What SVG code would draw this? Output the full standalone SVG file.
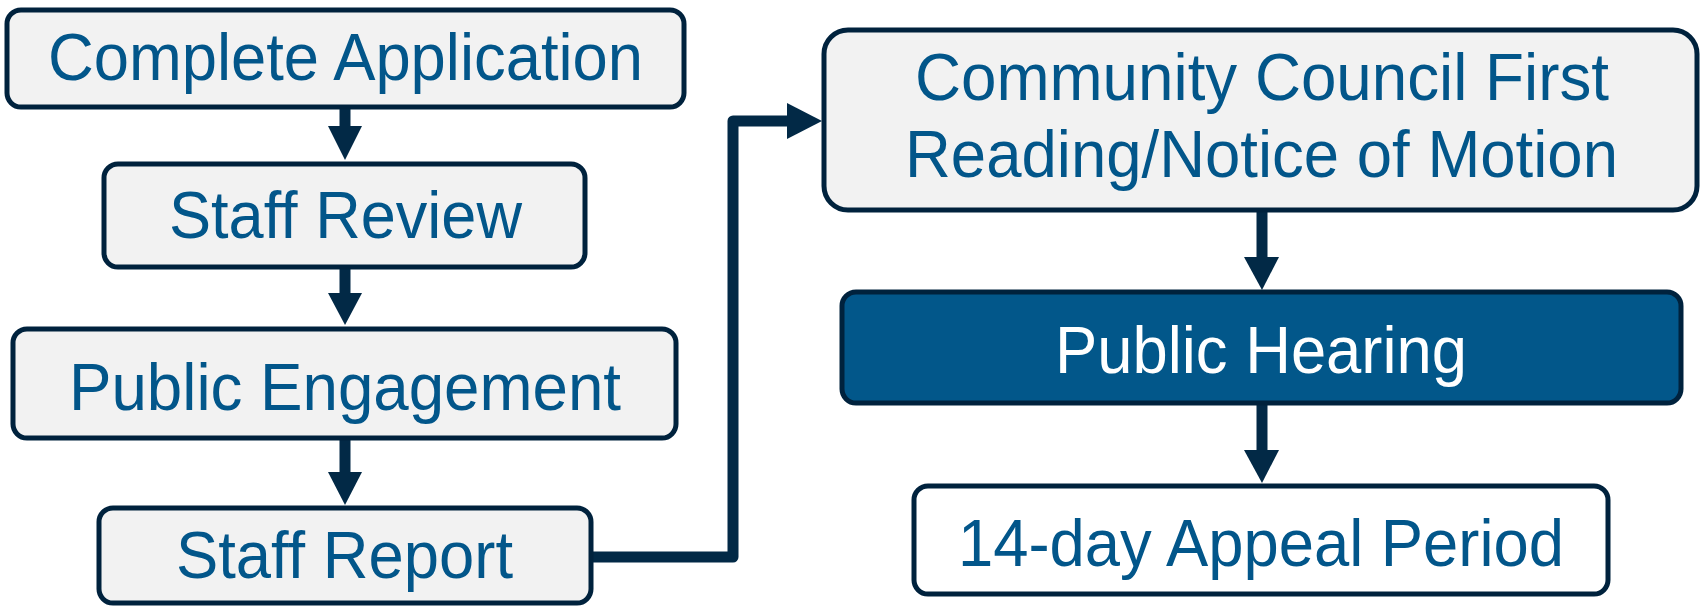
<svg xmlns="http://www.w3.org/2000/svg" width="1700" height="606" viewBox="0 0 1700 606">
  <defs>
    <style>
      .box { fill: #f2f2f2; stroke: #00223d; stroke-width: 5; }
      .box-dark { fill: #02578a; stroke: #00223d; stroke-width: 5; }
      .box-white { fill: #ffffff; stroke: #00223d; stroke-width: 5; }
      .lbl { font-family: "Liberation Sans", Arial, sans-serif; font-size: 66px; fill: #02568a; text-anchor: middle; }
      .lbl-w { fill: #ffffff; }
      .conn { fill: none; stroke: #022946; stroke-width: 11; stroke-linejoin: round; }
      .head { fill: #022946; }
    </style>
  </defs>

  <g id="connectors">
    <line class="conn" x1="345" y1="109" x2="345" y2="128"/>
    <polygon class="head" points="328,126 362,126 345,160"/>
    <line class="conn" x1="345" y1="269" x2="345" y2="295"/>
    <polygon class="head" points="328,293 362,293 345,325"/>
    <line class="conn" x1="345" y1="440" x2="345" y2="474"/>
    <polygon class="head" points="328,472 362,472 345,505"/>
    <polyline class="conn" points="593,557 733,557 733,121 789,121"/>
    <polygon class="head" points="787,103 787,139 822,121"/>
    <line class="conn" x1="1262" y1="212" x2="1262" y2="259"/>
    <polygon class="head" points="1244,257 1279,257 1262,290"/>
    <line class="conn" x1="1262" y1="405" x2="1262" y2="452"/>
    <polygon class="head" points="1244,450 1279,450 1262,483"/>
  </g>

  <g id="node-complete-application">
    <rect class="box" x="7" y="10" width="677" height="97" rx="14"/>
    <text class="lbl" x="345.5" y="80" textLength="595" lengthAdjust="spacingAndGlyphs">Complete Application</text>
  </g>

  <g id="node-staff-review">
    <rect class="box" x="104" y="164" width="481" height="103" rx="14"/>
    <text class="lbl" x="345.5" y="238" textLength="353" lengthAdjust="spacingAndGlyphs">Staff Review</text>
  </g>

  <g id="node-public-engagement">
    <rect class="box" x="13" y="329" width="663" height="109" rx="14"/>
    <text class="lbl" x="345" y="410" textLength="552" lengthAdjust="spacingAndGlyphs">Public Engagement</text>
  </g>

  <g id="node-staff-report">
    <rect class="box" x="99" y="508" width="492" height="95" rx="14"/>
    <text class="lbl" x="344.5" y="578" textLength="337" lengthAdjust="spacingAndGlyphs">Staff Report</text>
  </g>

  <g id="node-community-council">
    <rect class="box" x="824" y="30" width="873" height="180" rx="24"/>
    <text class="lbl" x="1262" y="100" textLength="694" lengthAdjust="spacingAndGlyphs">Community Council First</text>
    <text class="lbl" x="1261.5" y="177" textLength="713" lengthAdjust="spacingAndGlyphs">Reading/Notice of Motion</text>
  </g>

  <g id="node-public-hearing">
    <rect class="box-dark" x="842" y="292" width="839" height="111" rx="14"/>
    <text class="lbl lbl-w" x="1261" y="373" textLength="412" lengthAdjust="spacingAndGlyphs">Public Hearing</text>
  </g>

  <g id="node-appeal-period">
    <rect class="box-white" x="914" y="486" width="694" height="108" rx="14"/>
    <text class="lbl" x="1261" y="566" textLength="606" lengthAdjust="spacingAndGlyphs">14-day Appeal Period</text>
  </g>
</svg>
